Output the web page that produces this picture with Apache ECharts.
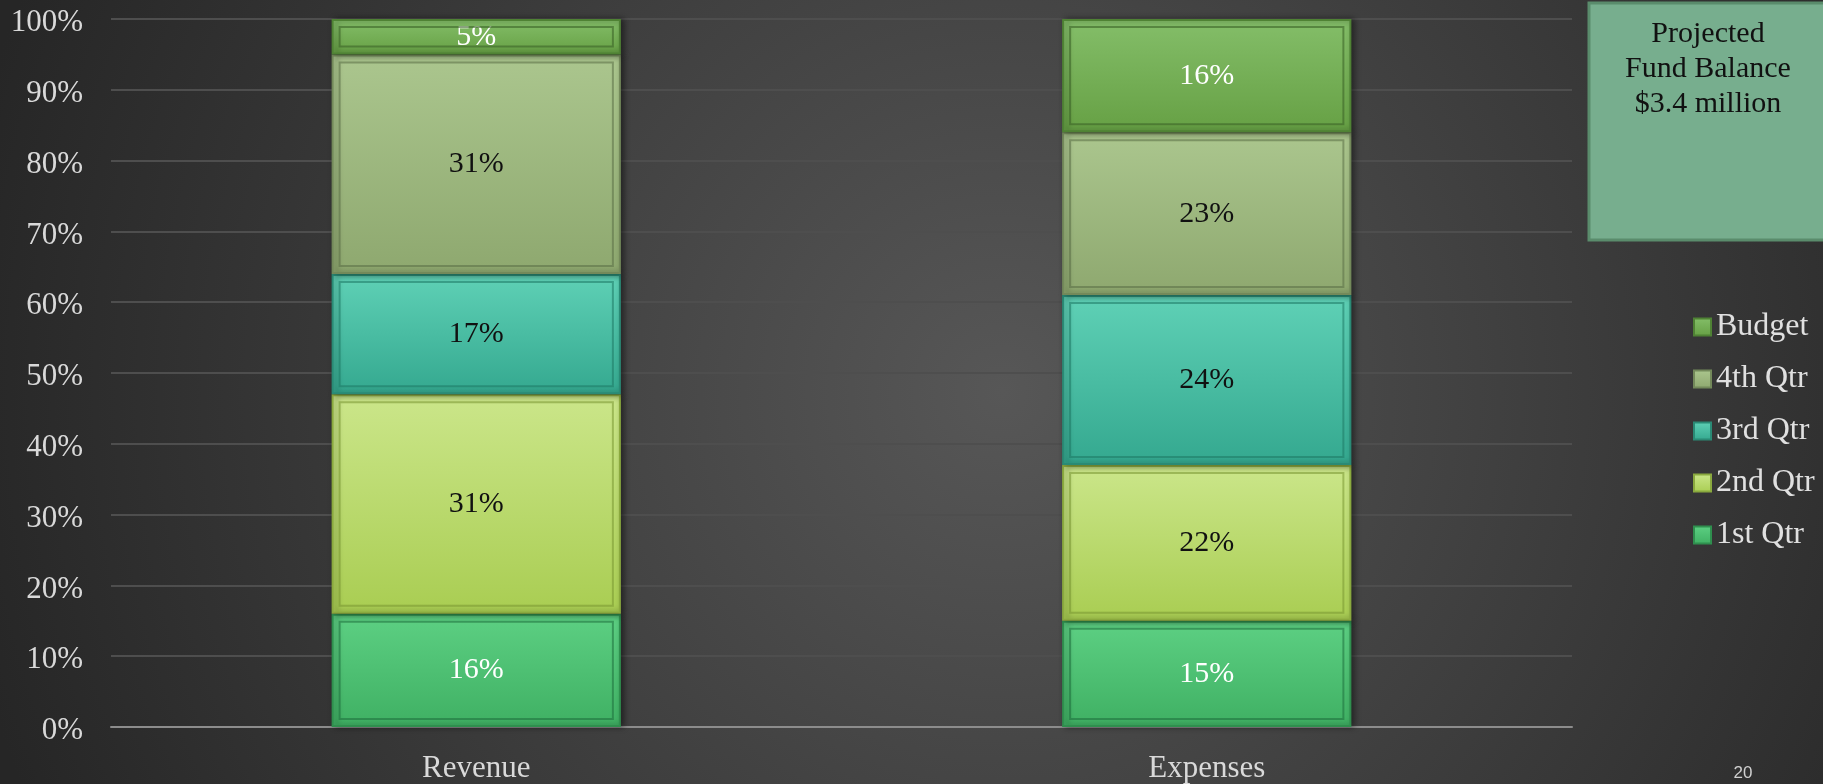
<!DOCTYPE html>
<html>
<head>
<meta charset="utf-8">
<script src="https://cdn.jsdelivr.net/npm/echarts@6/dist/echarts.min.js"></script>
<style>
  html, body { margin: 0; padding: 0; background: #333; }
  #chart { width: 1823px; height: 784px; }
</style>
</head>
<body>
<div id="chart"></div>
<script>
const categories = ['Revenue', 'Expenses']
const seriesNames = ['1st Qtr', '2nd Qtr', '3rd Qtr', '4th Qtr', 'Budget']
const q1 = [16, 15]
const q2 = [31, 22]
const q3 = [17, 24]
const q4 = [31, 23]
const budget = [5, 16]
const legendOrder = ['Budget', '4th Qtr', '3rd Qtr', '2nd Qtr', '1st Qtr']
const boxLines = ['Projected', 'Fund Balance', '$3.4 million']

const serif = '"Liberation Serif", "DejaVu Serif", serif'

// top colour, bottom colour, border, label colour, bevel line
const styles = [
  ['#5dd083', '#3fb063', '#2f8f4e', '#ffffff', 'rgba(30,110,60,0.55)'],
  ['#cbe68a', '#a9cd52', '#8aa93e', '#111111', 'rgba(120,150,50,0.55)'],
  ['#5fd1b6', '#34a88f', '#2a8a75', '#111111', 'rgba(30,120,100,0.55)'],
  ['#abc68e', '#8ea86f', '#73895a', '#111111', 'rgba(90,110,70,0.55)'],
  ['#84be69', '#66a044', '#4f8234', '#ffffff', 'rgba(60,100,40,0.6)']
]

const values = [q1, q2, q3, q4, budget]

// segment list for the inner bevel outline: [category, bottom, top, series]
const segments = []
categories.forEach((c, ci) => {
  let base = 0
  values.forEach((vals, si) => {
    segments.push([ci, base, base + vals[ci], si])
    base += vals[ci]
  })
})

const chart = echarts.init(document.getElementById('chart'))

const series = values.map((vals, i) => ({
  name: seriesNames[i],
  type: 'bar',
  stack: 'total',
  barWidth: '39.6%',
  data: vals,
  itemStyle: {
    color: {
      type: 'linear', x: 0, y: 0, x2: 0, y2: 1,
      colorStops: [
        { offset: 0, color: styles[i][0] },
        { offset: 1, color: styles[i][1] }
      ]
    },
    borderColor: styles[i][2],
    borderWidth: 2,
    shadowColor: 'rgba(0,0,0,0.45)',
    shadowBlur: 6,
    shadowOffsetX: 3
  },
  label: {
    show: true,
    position: 'inside',
    formatter: '{c}%',
    color: styles[i][3],
    fontFamily: serif,
    fontSize: 30
  }
}))

// inset outline giving the bevelled look
series.push({
  type: 'custom',
  silent: true,
  z: 3,
  data: segments,
  renderItem: function(params, api) {
    const ci = api.value(0)
    const lo = api.coord([ci, api.value(1)])
    const hi = api.coord([ci, api.value(2)])
    const w = api.size([1, 0])[0] * 0.396
    const inset = 8
    const h = lo[1] - hi[1] - inset * 2
    if (h <= 2) return null
    return {
      type: 'rect',
      shape: { x: lo[0] - w / 2 + inset, y: hi[1] + inset, width: w - inset * 2, height: h },
      style: { fill: null, stroke: styles[api.value(3)][4], lineWidth: 2 }
    }
  }
})

const option = {
  backgroundColor: {
    type: 'radial', x: 0.55, y: 0.5, r: 1.35,
    colorStops: [
      { offset: 0, color: '#575757' },
      { offset: 1, color: '#262626' }
    ]
  },
  animation: false,
  grid: {
    left: 111,
    right: 251,
    top: 19,
    bottom: 57
  },
  legend: {
    data: legendOrder,
    orient: 'vertical',
    left: 1688,
    top: 306,
    itemWidth: 17,
    itemHeight: 17,
    itemGap: 20,
    icon: 'rect',
    textStyle: {
      color: '#e0e0e0',
      fontFamily: serif,
      fontSize: 32
    }
  },
  xAxis: {
    type: 'category',
    data: categories,
    axisLine: { lineStyle: { color: '#8c8c8c', width: 2 } },
    axisTick: { show: false },
    axisLabel: {
      color: '#d9d9d9',
      fontFamily: serif,
      fontSize: 31,
      margin: 26
    }
  },
  yAxis: {
    type: 'value',
    min: 0,
    max: 100,
    interval: 10,
    axisLine: { show: false },
    axisTick: { show: false },
    axisLabel: {
      formatter: '{value}%',
      color: '#d9d9d9',
      fontFamily: serif,
      fontSize: 31,
      margin: 28,
      verticalAlign: 'top',
      lineHeight: 8
    },
    splitLine: { lineStyle: { color: '#4e4e4e', width: 2 } }
  },
  graphic: [
    {
      type: 'rect',
      shape: { x: 1589, y: 3, width: 240, height: 237 },
      style: { fill: '#77ae8e', stroke: '#5a8c6c', lineWidth: 3 }
    },
    {
      type: 'text',
      x: 1708,
      y: 17,
      style: {
        text: boxLines.join('\n'),
        fill: '#111111',
        font: '30px ' + serif,
        lineHeight: 35,
        align: 'center'
      }
    },
    {
      type: 'text',
      x: 1743,
      y: 765,
      style: {
        text: '20',
        fill: '#d0d0d0',
        font: '17px "Liberation Sans", Arial, sans-serif',
        align: 'center'
      }
    }
  ],
  series: series
}

chart.setOption(option)

window.addEventListener('resize', function() {
  chart.resize()
})
</script>
</body>
</html>
